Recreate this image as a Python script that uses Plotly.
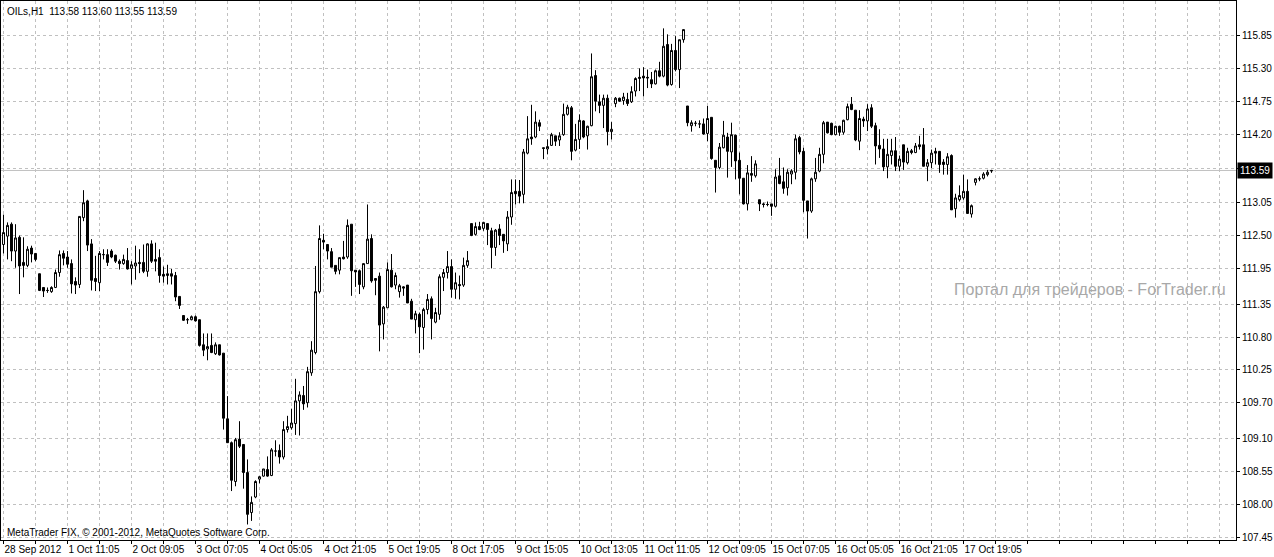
import plotly.graph_objects as go

opens = [112.35,112.49,112.69,112.24,112.47,112.05,112.00,112.29,112.20,111.86,
111.63,111.58,111.56,111.63,111.88,112.20,112.14,112.03,111.73,111.68,
112.80,113.08,112.36,111.78,111.71,112.18,112.18,112.24,112.17,112.07,
112.03,112.08,111.95,111.99,112.05,112.05,111.90,112.36,112.10,112.13,
111.85,111.83,111.86,111.83,111.48,111.16,111.09,111.09,111.14,111.09,
110.67,110.60,110.66,110.52,110.67,110.53,109.43,109.03,108.38,109.09,
109.00,108.53,107.86,108.12,108.42,108.47,108.58,108.48,108.89,108.90,
108.79,109.25,109.28,109.35,109.73,109.82,109.70,110.20,110.54,111.56,
112.42,112.35,112.23,112.00,111.92,112.14,112.14,112.69,111.92,111.91,
111.64,112.03,112.45,111.78,111.82,111.02,111.29,111.92,111.67,111.56,
111.64,111.67,111.40,111.09,111.18,110.96,111.26,111.44,111.05,111.18,
111.80,111.88,111.98,111.60,111.68,111.67,112.00,112.70,112.52,112.65,
112.62,112.70,112.58,112.30,112.61,112.52,112.36,112.81,113.24,113.24,
113.19,113.88,114.15,114.15,114.39,113.97,113.95,114.01,114.17,114.10,
114.19,114.53,114.64,113.93,114.11,114.42,114.17,114.34,115.18,114.74,
114.68,114.80,114.24,114.71,114.80,114.76,114.78,114.74,114.92,115.13,
115.17,115.15,115.11,115.04,115.26,115.17,115.70,115.03,115.60,115.28,
115.78,114.67,114.34,114.38,114.37,114.37,114.21,114.48,113.76,113.64,
113.97,114.15,113.90,114.18,113.76,113.46,113.03,113.54,113.50,113.10,
113.03,113.02,113.03,112.99,113.50,113.40,113.30,113.53,113.56,114.14,
113.91,113.08,112.91,113.45,113.58,113.86,114.40,114.38,114.19,114.33,
114.23,114.44,114.70,114.60,114.08,114.45,114.42,114.64,114.34,114.01,
113.95,113.65,113.84,113.92,113.66,114.02,113.72,113.92,113.89,114.02,
114.02,113.66,113.72,113.91,113.91,113.73,113.69,113.84,112.95,113.10,
113.13,113.24,112.86,113.39,113.45,113.46,113.52,113.58]

highs = [112.85,112.72,112.72,112.69,112.50,112.47,112.32,112.33,112.20,111.86,
111.63,111.63,111.65,111.93,112.25,112.25,112.24,112.10,111.80,112.82,
113.26,113.10,112.44,112.16,112.24,112.27,112.27,112.27,112.18,112.10,
112.18,112.29,112.07,112.33,112.27,112.35,112.37,112.42,112.38,112.27,
111.98,112.01,111.94,111.89,111.48,111.16,111.12,111.16,111.16,111.09,
110.86,110.86,110.86,110.71,110.67,110.53,109.81,109.05,109.11,109.39,
109.00,108.75,108.13,108.40,108.47,108.59,108.80,108.94,109.07,109.00,
109.39,109.48,109.60,110.10,109.89,109.98,110.30,110.73,111.99,112.67,
112.53,112.35,112.29,112.00,112.13,112.41,112.77,112.69,111.92,111.93,
112.03,113.02,112.52,111.78,111.88,111.32,112.05,112.19,111.88,111.69,
111.65,111.67,111.44,111.24,111.21,111.29,111.52,111.48,111.29,111.85,
111.94,112.24,112.10,111.88,111.83,112.13,112.24,112.70,112.72,112.73,
112.73,112.70,112.63,112.61,112.69,112.52,112.91,113.44,113.44,113.43,
113.95,114.50,114.69,114.58,114.44,113.97,114.11,114.22,114.17,114.23,
114.71,114.69,114.67,114.37,114.53,114.43,114.34,115.55,115.27,114.86,
114.86,114.86,114.40,114.82,114.81,114.89,114.89,115.00,115.15,115.30,
115.32,115.28,115.24,115.28,115.41,115.97,115.87,115.71,115.84,115.78,
115.95,114.67,114.43,114.42,114.43,114.46,114.67,114.48,113.76,114.05,
114.42,114.22,114.39,114.19,113.89,113.46,113.68,113.83,113.76,113.10,
113.05,113.07,113.03,113.61,113.80,113.64,113.61,113.61,114.19,114.17,
113.97,113.08,113.47,113.80,113.97,114.42,114.40,114.39,114.34,114.34,
114.44,114.71,114.82,114.60,114.60,114.49,114.70,114.70,114.39,114.28,
114.12,114.12,114.12,114.15,113.84,114.02,113.97,113.95,114.05,114.17,
114.30,113.78,113.94,113.97,113.91,113.78,113.88,113.86,113.20,113.34,
113.52,113.44,113.02,113.46,113.49,113.56,113.60,113.60]

lows = [112.20,112.10,112.07,111.96,111.52,111.80,111.97,112.05,112.07,111.57,
111.47,111.54,111.54,111.62,111.81,112.00,111.96,111.53,111.52,111.62,
112.74,112.24,111.58,111.57,111.57,112.10,111.99,112.12,112.04,111.93,
112.01,111.93,111.68,111.76,111.87,111.87,111.81,112.04,111.90,111.71,
111.71,111.68,111.68,111.40,111.27,111.07,111.02,111.08,111.06,110.64,
110.48,110.41,110.53,110.50,110.49,109.25,109.03,108.22,108.30,108.94,
108.26,107.66,107.72,108.10,108.35,108.46,108.46,108.47,108.80,108.68,
108.75,109.20,109.25,109.16,109.15,109.58,109.62,110.15,110.51,111.53,
112.27,112.10,111.97,111.85,111.85,112.10,112.11,111.49,111.64,111.52,
111.60,112.03,111.71,111.50,110.56,110.76,111.29,111.63,111.60,111.46,
111.49,111.37,111.10,110.86,110.53,110.59,111.18,110.76,111.03,111.09,
111.57,111.78,111.46,111.44,111.43,111.64,111.96,112.49,112.50,112.59,
112.58,112.34,111.95,112.16,112.34,112.21,112.24,112.68,113.02,113.04,
113.04,113.86,114.02,114.13,114.25,113.78,113.86,114.00,114.00,114.00,
114.17,114.51,113.76,113.91,113.95,114.13,113.94,114.33,114.58,114.55,
114.30,114.01,114.11,114.65,114.74,114.69,114.67,114.72,114.83,114.92,
114.83,114.97,114.97,115.03,115.15,115.15,115.00,115.01,115.25,114.97,
115.73,114.33,114.24,114.33,114.30,114.19,114.08,113.77,113.22,113.61,
113.96,113.47,113.65,113.44,113.19,113.02,112.92,113.40,113.47,112.91,
112.97,112.99,112.83,112.97,113.36,113.20,113.17,113.36,113.44,113.86,
112.89,112.45,112.88,113.40,113.56,113.71,114.21,114.18,114.18,114.17,
114.19,114.43,114.60,114.08,113.93,114.32,114.25,114.30,113.69,113.80,
113.58,113.46,113.69,113.58,113.58,113.60,113.69,113.86,113.88,113.94,
113.66,113.41,113.63,113.69,113.55,113.52,113.52,112.93,112.80,113.07,
113.10,112.87,112.80,113.34,113.41,113.44,113.49,113.55]

closes = [112.55,112.67,112.24,112.46,111.99,112.00,112.27,112.19,112.10,111.58,
111.57,111.58,111.63,111.88,112.18,112.12,112.02,111.69,111.67,112.82,
113.05,112.34,111.75,111.73,112.20,112.18,112.05,112.14,112.07,112.03,
112.10,111.94,112.01,112.04,112.03,111.90,112.36,112.07,112.07,111.83,
111.82,111.86,111.82,111.47,111.33,111.08,111.09,111.14,111.07,110.66,
110.58,110.64,110.54,110.67,110.50,109.44,109.03,108.40,109.08,108.97,
108.53,107.83,108.03,108.38,108.46,108.59,108.47,108.91,108.89,108.79,
109.25,109.30,109.36,109.73,109.83,109.68,110.22,110.58,111.56,112.45,
112.39,112.24,111.97,111.90,112.13,112.11,112.67,111.91,111.89,111.68,
112.03,112.44,111.74,111.75,111.00,111.30,111.93,111.64,111.83,111.66,
111.62,111.37,111.10,111.19,110.97,111.26,111.43,111.11,111.21,111.81,
111.88,111.98,111.60,111.71,111.66,112.00,112.08,112.50,112.65,112.60,
112.72,112.60,112.30,112.59,112.50,112.41,112.81,113.22,113.20,113.16,
113.90,114.12,114.12,114.40,114.33,113.96,113.99,114.19,114.08,114.17,
114.53,114.65,113.91,114.11,114.43,114.15,114.33,115.16,114.75,114.68,
114.80,114.24,114.28,114.80,114.75,114.82,114.71,114.91,115.13,115.15,
115.14,115.14,115.04,115.26,115.17,115.67,115.02,115.60,115.28,115.78,
115.95,114.39,114.39,114.38,114.37,114.20,114.46,113.79,113.64,113.98,
114.18,113.91,114.19,113.75,113.46,113.03,113.55,113.51,113.70,113.03,
113.02,113.02,112.99,113.48,113.37,113.29,113.56,113.58,114.12,113.90,
113.09,112.91,113.45,113.56,113.86,114.39,114.22,114.19,114.33,114.23,
114.43,114.66,114.61,114.10,114.46,114.42,114.62,114.33,114.00,113.95,
113.65,113.86,113.92,113.66,113.78,113.73,113.91,113.89,114.00,113.99,
113.66,113.72,113.88,113.88,113.69,113.69,113.82,112.93,113.13,113.17,
113.24,112.87,113.00,113.45,113.45,113.53,113.56,113.59]

time_labels = ["28 Sep 2012", "1 Oct 11:05", "2 Oct 09:05", "3 Oct 07:05", "4 Oct 05:05",
               "4 Oct 21:05", "5 Oct 19:05", "8 Oct 17:05", "9 Oct 15:05", "10 Oct 13:05",
               "11 Oct 11:05", "12 Oct 09:05", "15 Oct 07:05", "16 Oct 05:05", "16 Oct 21:05",
               "17 Oct 19:05"]
label_step = 16
grid_step = 8

price_ticks = [107.45, 108.00, 108.55, 109.10, 109.70, 110.25, 110.80, 111.35, 111.95,
               112.50, 113.05, 113.62, 114.20, 114.75, 115.30, 115.85]
price_labels = ["107.45", "108.00", "108.55", "109.10", "109.70", "110.25", "110.80", "111.35",
                "111.95", "112.50", "113.05", "", "114.20", "114.75", "115.30", "115.85"]

n = len(closes)
xs = list(range(n))
last_price = closes[-1]

FONT = "Liberation Sans, Arial, sans-serif"
W, H = 1274, 557
ml, mr, mt, mb = 1, 38, 1, 17
plot_w = W - ml - mr
plot_h = H - mt - mb

x_min = -0.625
x_max = x_min + plot_w / 4.0

tickvals = list(range(0, int(x_max) + 1, grid_step))
ticktext = []
for v in tickvals:
    if v % label_step == 0 and v // label_step < len(time_labels):
        ticktext.append(time_labels[v // label_step])
    else:
        ticktext.append("")

fig = go.Figure()
fig.add_trace(go.Candlestick(
    x=xs, open=opens, high=highs, low=lows, close=closes,
    increasing=dict(line=dict(color="black", width=1), fillcolor="white"),
    decreasing=dict(line=dict(color="black", width=1), fillcolor="black"),
    whiskerwidth=0, hoverinfo="skip", showlegend=False,
))

fig.add_shape(type="line", xref="paper", x0=0, x1=1, yref="y", y0=last_price, y1=last_price,
              line=dict(color="#C0C0C0", width=1), layer="below")

fig.update_layout(
    width=W, height=H,
    margin=dict(l=ml, r=mr, t=mt, b=mb, pad=0, autoexpand=False),
    paper_bgcolor="white", plot_bgcolor="white",
    font=dict(family=FONT, size=10, color="black"),
    showlegend=False,
    xaxis=dict(
        range=[x_min, x_max], rangeslider=dict(visible=False),
        tickmode="array", tickvals=tickvals, ticktext=ticktext,
        ticklabelposition="outside right", tickangle=0, automargin=False,
        showgrid=True, gridcolor="#C0C0C0", griddash="3px,3px", gridwidth=1,
        showline=True, linecolor="black", linewidth=1, mirror=True,
        ticks="outside", ticklen=3, tickcolor="black",
        tickfont=dict(family=FONT, size=10, color="black"),
        zeroline=False, fixedrange=True,
    ),
    yaxis=dict(
        range=[107.40, 107.40 + plot_h / 59.7], side="right", automargin=False,
        tickmode="array", tickvals=price_ticks, ticktext=price_labels,
        showgrid=True, gridcolor="#C0C0C0", griddash="3px,3px", gridwidth=1,
        showline=True, linecolor="black", linewidth=1, mirror=True,
        ticks="outside", ticklen=3, tickcolor="black",
        tickfont=dict(family=FONT, size=10, color="black"),
        zeroline=False, fixedrange=True,
    ),
)

fig.add_annotation(xref="paper", yref="paper", x=4 / plot_w, y=1 - 3 / plot_h,
                   xanchor="left", yanchor="top", showarrow=False,
                   text="OILs,H1  113.58 113.60 113.55 113.59",
                   font=dict(family=FONT, size=10, color="black"))
fig.add_annotation(xref="paper", yref="paper", x=4 / plot_w, y=0,
                   xanchor="left", yanchor="bottom", showarrow=False,
                   text="MetaTrader FIX, © 2001-2012, MetaQuotes Software Corp.",
                   font=dict(family=FONT, size=10, color="black"))
fig.add_annotation(xref="paper", yref="paper", x=(1228 - ml) / plot_w, y=(540 - 289) / plot_h,
                   xanchor="right", yanchor="middle", showarrow=False,
                   text="Портал для трейдеров - ForTrader.ru",
                   font=dict(family=FONT, size=16, color="#A8A8A8"))
fig.add_annotation(xref="paper", yref="y", x=1, y=last_price, xshift=1,
                   xanchor="left", yanchor="middle", showarrow=False,
                   text="113.59", bgcolor="black", borderpad=2,
                   font=dict(family=FONT, size=10, color="white"))

fig.write_html("out.html", config={"displayModeBar": False},
               post_script="document.body.style.margin='0';document.body.style.overflow='hidden';")
